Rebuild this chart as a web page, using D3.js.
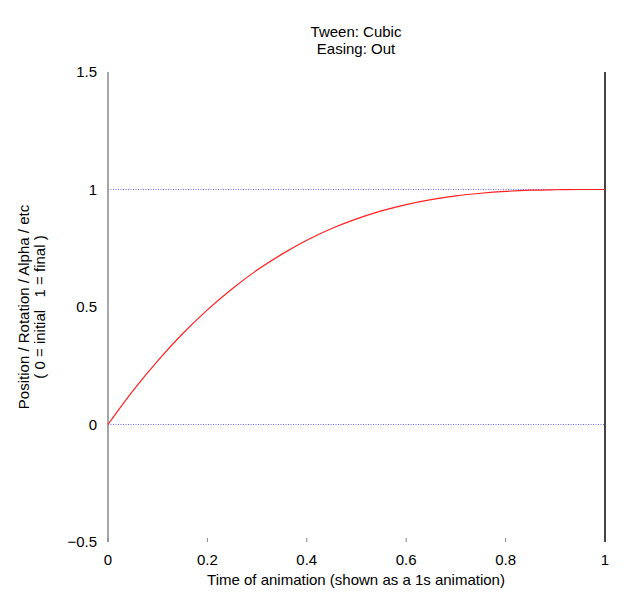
<!DOCTYPE html>
<html>
<head>
<meta charset="utf-8">
<script src="https://cdn.jsdelivr.net/npm/d3@7"></script>
<style>
    body { margin: 0; background: #fff; }
    text { font-family: 'Liberation Sans', Arial, sans-serif; }
</style>
</head>
<body>
<script>
const times = [0, 0.05, 0.1, 0.15, 0.2, 0.25, 0.3, 0.35, 0.4, 0.45, 0.5, 0.55, 0.6, 0.65, 0.7, 0.75, 0.8, 0.85, 0.9, 0.95, 1];
const values = [0, 0.143, 0.271, 0.386, 0.488, 0.578, 0.657, 0.725, 0.784, 0.834, 0.875, 0.909, 0.936, 0.957, 0.973, 0.984, 0.992, 0.997, 0.999, 1.0, 1.0];
const xTicks = [0, 0.2, 0.4, 0.6, 0.8, 1];
const yTicks = [-0.5, 0, 0.5, 1, 1.5];
const guideLines = [0, 1];

const width = 641;
const height = 599;

const svg = d3.select('body').append('svg')
    .attr('width', width)
    .attr('height', height);

const x = d3.scaleLinear().domain([0, 1]).range([108, 605]);
const y = d3.scaleLinear().domain([-0.5, 1.5]).range([542, 72]);

// dotted guides
svg.selectAll('line.guide')
    .data(guideLines)
    .enter()
    .append('line')
    .attr('x1', x(0))
    .attr('x2', x(1))
    .attr('y1', d => y(d))
    .attr('y2', d => y(d))
    .attr('stroke', '#6a6aff')
    .attr('stroke-width', 1)
    .attr('stroke-dasharray', '1 1.5');

// x ticks (small, inside)
svg.selectAll('line.xtick')
    .data(xTicks)
    .enter()
    .append('line')
    .attr('x1', d => x(d))
    .attr('x2', d => x(d))
    .attr('y1', y(-0.5))
    .attr('y2', y(-0.5) - 4)
    .attr('stroke', '#888');

svg.selectAll('text.xlabel')
    .data(xTicks)
    .enter()
    .append('text')
    .attr('x', d => x(d))
    .attr('y', y(-0.5) + 23)
    .attr('text-anchor', 'middle')
    .attr('font-size', 15)
    .text(d => d3.format('')(d));

svg.selectAll('text.ylabel')
    .data(yTicks)
    .enter()
    .append('text')
    .attr('x', x(0) - 11)
    .attr('y', d => y(d) + 5)
    .attr('text-anchor', 'end')
    .attr('font-size', 15)
    .text(d => d3.format('')(d));

// left axis
svg.append('line')
    .attr('x1', x(0)).attr('x2', x(0))
    .attr('y1', y(1.5)).attr('y2', y(-0.5))
    .attr('stroke', '#888').attr('stroke-width', 1.5);

// right axis
svg.append('line')
    .attr('x1', x(1)).attr('x2', x(1))
    .attr('y1', y(1.5)).attr('y2', y(-0.5))
    .attr('stroke', '#444').attr('stroke-width', 2);

// curve
const line = d3.line()
    .x((d, i) => x(times[i]))
    .y(d => y(d))
    .curve(d3.curveMonotoneX);

svg.append('path')
    .datum(values)
    .attr('d', line)
    .attr('fill', 'none')
    .attr('stroke', '#ff2020')
    .attr('stroke-width', 1.2);

// titles
svg.append('text').attr('x', 356).attr('y', 37).attr('text-anchor', 'middle')
    .attr('font-size', 15).text('Tween: Cubic');
svg.append('text').attr('x', 356).attr('y', 54).attr('text-anchor', 'middle')
    .attr('font-size', 15).text('Easing: Out');

svg.append('text').attr('x', 356).attr('y', 585).attr('text-anchor', 'middle')
    .attr('font-size', 15).text('Time of animation (shown as a 1s animation)');

const yl = svg.append('g').attr('transform', `translate(29, ${y(0.5)}) rotate(-90)`);
yl.append('text').attr('x', 0).attr('y', 0).attr('text-anchor', 'middle')
    .attr('font-size', 15).text('Position / Rotation / Alpha / etc');
yl.append('text').attr('x', 0).attr('y', 16).attr('text-anchor', 'middle')
    .attr('font-size', 15).style('white-space', 'pre')
    .text('( 0 = initial   1 = final )');
</script>
</body>
</html>
